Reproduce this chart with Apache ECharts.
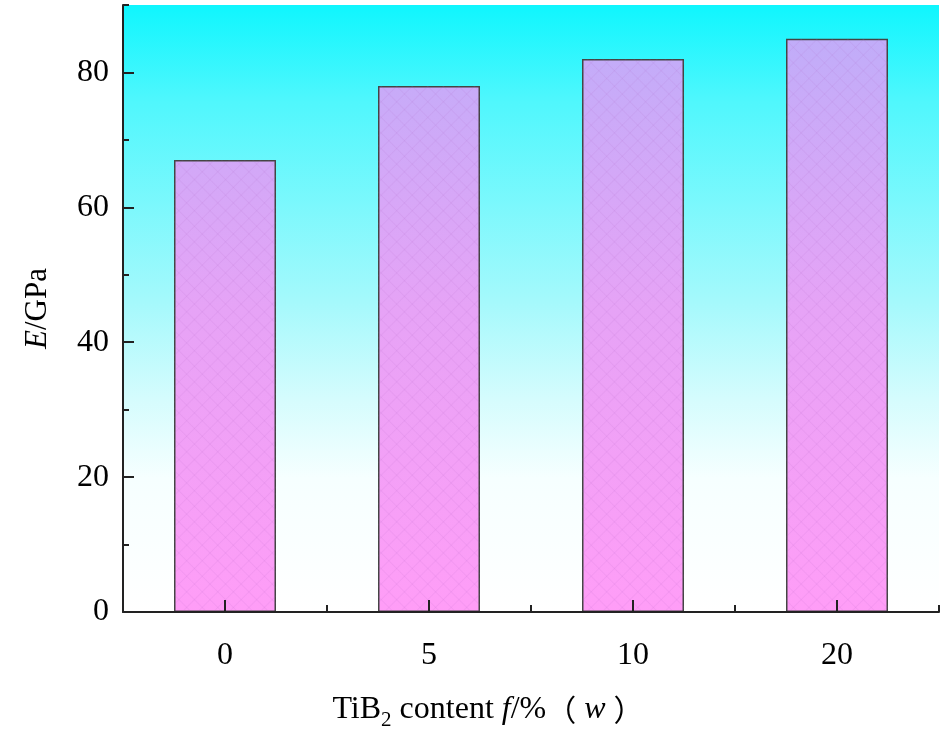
<!DOCTYPE html>
<html>
<head>
<meta charset="utf-8">
<script src="https://cdn.jsdelivr.net/npm/echarts@6/dist/echarts.min.js"></script>
<style>html,body{margin:0;padding:0;background:#fff;}#c{width:945px;height:752px;}</style>
</head>
<body>
<div id="c"></div>
<script>
var categories = ['0', '5', '10', '20'];
var modulus = [67, 78, 82, 85];
var yTicks = [0, 20, 40, 60, 80];

var chart = echarts.init(document.getElementById('c'), null, {renderer: 'canvas'});
var FONT = '"Liberation Serif", "Times New Roman", serif';
var barGrad = new echarts.graphic.LinearGradient(0, 5, 0, 612, [
  {offset: 0, color: '#bcaef9'},
  {offset: 0.5, color: '#e6a3f6'},
  {offset: 1, color: '#ff9df7'}
], true);
var bgGrad = new echarts.graphic.LinearGradient(0, 0, 0, 1, [
  {offset: 0, color: '#0ff6fe'},
  {offset: 0.16, color: '#50f7fd'},
  {offset: 0.49, color: '#a5f9fc'},
  {offset: 0.65, color: '#d5fcfd'},
  {offset: 0.78, color: '#f6ffff'},
  {offset: 1, color: '#ffffff'}
]);
var decalA = {symbol: 'rect', symbolSize: 1, dashArrayX: [[1, 0]], dashArrayY: [1, 10], rotation: Math.PI / 4, color: 'rgba(170,90,190,0.10)', backgroundColor: 'rgba(0,0,0,0)'};
var decalB = {symbol: 'rect', symbolSize: 1, dashArrayX: [[1, 0]], dashArrayY: [1, 10], rotation: -Math.PI / 4, color: 'rgba(170,90,190,0.10)', backgroundColor: 'rgba(0,0,0,0)'};

chart.setOption({
  animation: false,
  backgroundColor: '#fff',
  grid: {left: 123, right: 6, top: 5, bottom: 140, show: true, backgroundColor: bgGrad, borderWidth: 0},
  xAxis: [{
    type: 'category',
    data: categories,
    position: 'bottom',
    z: 10,
    axisLine: {lineStyle: {color: '#222', width: 2}},
    axisTick: {show: true, alignWithLabel: true, inside: true, length: 12, lineStyle: {color: '#222', width: 2}},
    axisLabel: {color: '#000', fontFamily: FONT, fontSize: 32, margin: 28},
    splitLine: {show: false},
    name: '{n|TiB}{s|2}{n| content }{i|f}{n|/%}{p|（}{i|w}{q|）}',
    nameLocation: 'middle',
    nameGap: 76,
    nameTextStyle: {
      padding: [0, 86, 0, 0],
      rich: {
        n: {fontFamily: FONT, fontSize: 32, color: '#000'},
        i: {fontFamily: FONT, fontSize: 32, fontStyle: 'italic', color: '#000'},
        p: {fontFamily: '"Noto Sans CJK SC", sans-serif', fontSize: 30, color: '#000', padding: [0, 8, 0, 0]},
        q: {fontFamily: '"Noto Sans CJK SC", sans-serif', fontSize: 30, color: '#000', padding: [0, 0, 0, 8]},
        s: {fontFamily: FONT, fontSize: 21, color: '#000', padding: [22, 0, 0, 0]}
      }
    }
  }, {
    type: 'value',
    min: 0, max: 4, interval: 1,
    position: 'bottom',
    z: 10,
    axisLine: {show: false},
    axisTick: {show: true, inside: true, length: 7, lineStyle: {color: '#222', width: 2}},
    axisLabel: {show: false},
    splitLine: {show: false}
  }],
  yAxis: [{
    type: 'value',
    min: 0, max: 90, interval: 20,
    position: 'left',
    z: 10,
    axisLine: {show: true, lineStyle: {color: '#222', width: 2}},
    axisTick: {show: true, inside: true, length: 11, lineStyle: {color: '#222', width: 2}},
    axisLabel: {color: '#000', fontFamily: FONT, fontSize: 32, margin: 14, showMaxLabel: false,
      formatter: function (v) { return yTicks.indexOf(v) >= 0 ? String(v) : ''; }},
    splitLine: {show: false},
    name: '{i|E}{n|/GPa}',
    nameLocation: 'middle',
    nameGap: 70,
    nameTextStyle: {
      rich: {
        n: {fontFamily: FONT, fontSize: 31, color: '#000'},
        i: {fontFamily: FONT, fontSize: 31, fontStyle: 'italic', color: '#000'}
      }
    }
  }, {
    type: 'value',
    min: 0, max: 90, interval: 10,
    position: 'left',
    z: 9,
    axisLine: {show: false},
    axisTick: {show: true, inside: true, length: 6, lineStyle: {color: '#222', width: 2}},
    axisLabel: {show: false},
    splitLine: {show: false}
  }],
  series: [{
    type: 'bar',
    data: modulus,
    barWidth: '50%',
    itemStyle: {color: barGrad, borderColor: '#444', borderWidth: 1.5}
  }, {
    type: 'bar',
    data: modulus,
    barWidth: '50%',
    barGap: '-100%',
    silent: true,
    itemStyle: {color: 'rgba(0,0,0,0)', decal: decalA}
  }, {
    type: 'bar',
    data: modulus,
    barWidth: '50%',
    barGap: '-100%',
    silent: true,
    itemStyle: {color: 'rgba(0,0,0,0)', decal: decalB}
  }]
});
</script>
</body>
</html>
